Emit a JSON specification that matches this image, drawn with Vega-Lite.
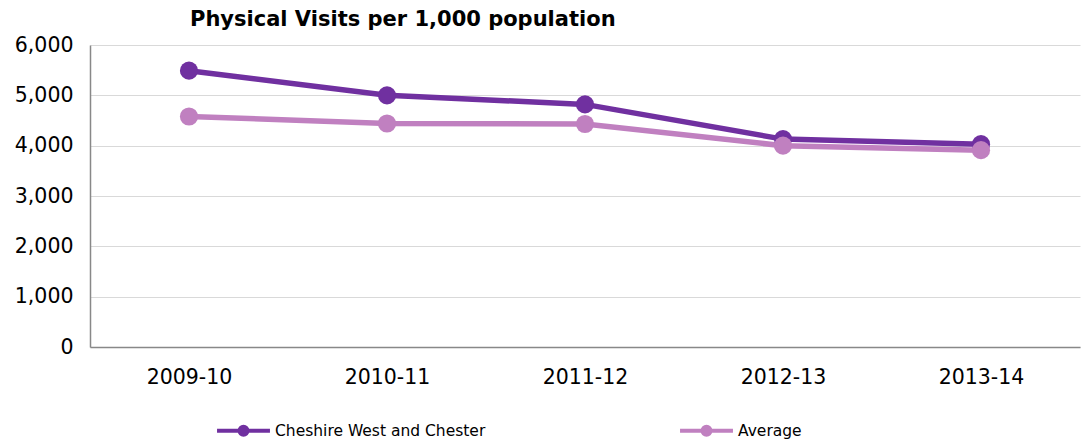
{
  "$schema": "https://vega.github.io/schema/vega-lite/v6.json",
  "width": 990,
  "height": 302,
  "autosize": {"type": "none"},
  "padding": {"left": 90, "top": 45, "right": 1, "bottom": 94},
  "background": "white",
  "title": {
    "text": "Physical Visits per 1,000 population",
    "anchor": "start",
    "frame": "group",
    "dx": 100,
    "offset": 5,
    "font": "DejaVu Sans",
    "fontSize": 21,
    "fontWeight": "bold",
    "color": "#000000"
  },
  "data": {
    "values": [
      {"year": "2009-10", "series": "Cheshire West and Chester", "visits": 5490},
      {"year": "2010-11", "series": "Cheshire West and Chester", "visits": 5000},
      {"year": "2011-12", "series": "Cheshire West and Chester", "visits": 4820},
      {"year": "2012-13", "series": "Cheshire West and Chester", "visits": 4130},
      {"year": "2013-14", "series": "Cheshire West and Chester", "visits": 4030},
      {"year": "2009-10", "series": "Average", "visits": 4580},
      {"year": "2010-11", "series": "Average", "visits": 4440},
      {"year": "2011-12", "series": "Average", "visits": 4430},
      {"year": "2012-13", "series": "Average", "visits": 4000},
      {"year": "2013-14", "series": "Average", "visits": 3910}
    ]
  },
  "mark": {"type": "line", "strokeWidth": 5.5, "point": {"filled": true, "size": 330, "opacity": 1}},
  "encoding": {
    "x": {
      "field": "year",
      "type": "ordinal",
      "scale": {"type": "point", "padding": 0.5},
      "axis": {
        "title": null,
        "labelAngle": 0,
        "labelFont": "DejaVu Sans",
        "labelFontSize": 20.5,
        "labelColor": "#000000",
        "labelPadding": 20,
        "ticks": false,
        "domainColor": "#888888",
        "domainWidth": 1.5,
        "grid": false
      }
    },
    "y": {
      "field": "visits",
      "type": "quantitative",
      "scale": {"domain": [0, 6000]},
      "axis": {
        "title": null,
        "values": [0, 1000, 2000, 3000, 4000, 5000, 6000],
        "format": ",d",
        "labelFont": "DejaVu Sans",
        "labelFontSize": 20.5,
        "labelColor": "#000000",
        "labelPadding": 17,
        "ticks": false,
        "domainColor": "#888888",
        "domainWidth": 1.5,
        "gridColor": "#d9d9d9",
        "gridWidth": 1
      }
    },
    "color": {
      "field": "series",
      "type": "nominal",
      "scale": {
        "domain": ["Cheshire West and Chester", "Average"],
        "range": ["#7030A0", "#C080C0"]
      },
      "legend": {
        "title": null,
        "orient": "none",
        "direction": "horizontal",
        "legendX": 125,
        "legendY": 357,
        "columnPadding": 186,
        "labelFont": "DejaVu Sans",
        "labelFontSize": 15.5,
        "labelLimit": 500,
        "labelColor": "#000000",
        "labelOffset": 3,
        "symbolType": "M-1,0L1,0M0.15,0A0.15,0.15,0,1,1,-0.15,0A0.15,0.15,0,1,1,0.15,0",
        "symbolSize": 2800,
        "symbolStrokeWidth": 4,
        "encode": {
          "symbols": {
            "update": {
              "fill": {"scale": "color", "field": "value"},
              "stroke": {"scale": "color", "field": "value"},
              "opacity": {"value": 1}
            }
          }
        }
      }
    }
  },
  "config": {
    "view": {"stroke": null}
  }
}
